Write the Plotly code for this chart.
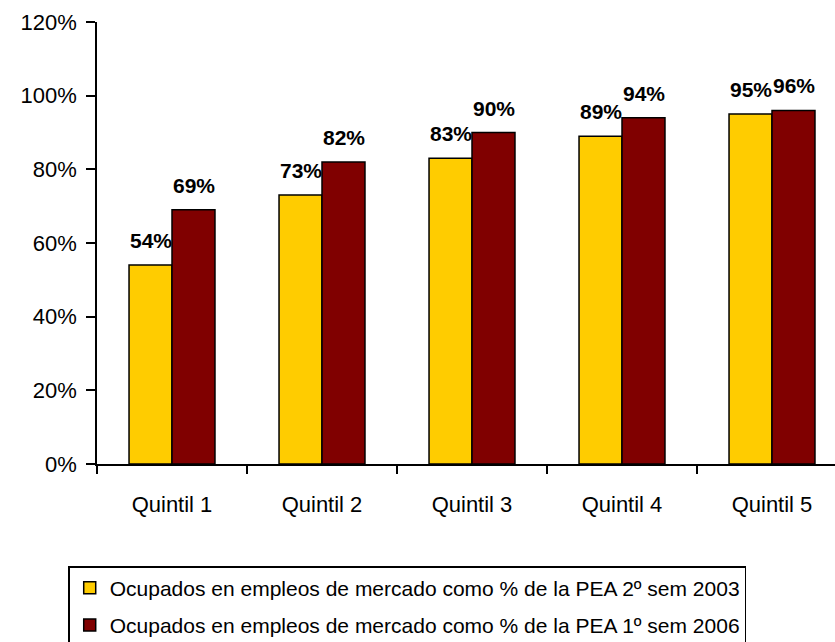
import plotly.graph_objects as go

categories = ["Quintil 1", "Quintil 2", "Quintil 3", "Quintil 4", "Quintil 5"]
series_names = [
    "Ocupados en empleos de mercado como % de la PEA 2º sem 2003",
    "Ocupados en empleos de mercado como % de la PEA 1º sem 2006",
]
values_2003 = [0.54, 0.73, 0.83, 0.89, 0.95]
values_2006 = [0.69, 0.82, 0.90, 0.94, 0.96]
y_ticks = [0, 0.2, 0.4, 0.6, 0.8, 1.0, 1.2]

colors = ["#FFCC00", "#800000"]
FONT = "Arial, Liberation Sans, sans-serif"

fig = go.Figure()
for i, (name, vals) in enumerate(zip(series_names, [values_2003, values_2006])):
    fig.add_trace(go.Bar(
        x=categories, y=vals, name=name,
        marker=dict(color=colors[i], line=dict(color="black", width=1.5)),
        legendgroup=f"g{i}",
    ))

annotations = []
for i, vals in enumerate([values_2003, values_2006]):
    shift = -21.5 if i == 0 else 21.5
    for c, v in zip(categories, vals):
        annotations.append(dict(
            x=c, y=v, xref="x", yref="y", text=f"{round(v*100)}%",
            showarrow=False, xshift=shift, yshift=11, yanchor="bottom",
            font=dict(family=FONT, size=21, color="black", weight="bold"),
        ))

fig.update_layout(
    width=835, height=642,
    margin=dict(l=97, r=0, t=22, b=178, autoexpand=False),
    paper_bgcolor="white", plot_bgcolor="white",
    barmode="group", bargap=0.427, bargroupgap=0,
    font=dict(family=FONT, color="black"),
    annotations=annotations,
    showlegend=True,
    legend=dict(
        x=-0.039, y=-0.2308, xanchor="left", yanchor="top",
        orientation="v", traceorder="grouped", tracegroupgap=7,
        bordercolor="black", borderwidth=1.5, bgcolor="white",
        font=dict(family=FONT, size=21, color="black"),
    ),
)
fig.update_yaxes(
    range=[0, 1.2], tickvals=y_ticks, tickformat=".0%",
    showline=True, linecolor="black", linewidth=1.5,
    ticks="outside", ticklen=9, tickcolor="black", tickwidth=1.5,
    showgrid=False, zeroline=False,
    tickfont=dict(family=FONT, size=22, color="black"),
    ticklabelstandoff=5,
)
fig.update_xaxes(
    type="category", range=[-0.5, 4.42],
    showline=True, linecolor="black", linewidth=1.5,
    ticks="outside", tickson="boundaries", ticklen=8, tickcolor="black", tickwidth=1.5,
    showgrid=False, zeroline=False,
    tickfont=dict(family=FONT, size=22, color="black"),
    ticklabelstandoff=20,
)

fig.write_html(
    "out.html",
    config={"displayModeBar": False},
    post_script="document.body.style.margin='0';document.body.style.overflow='hidden';",
)
